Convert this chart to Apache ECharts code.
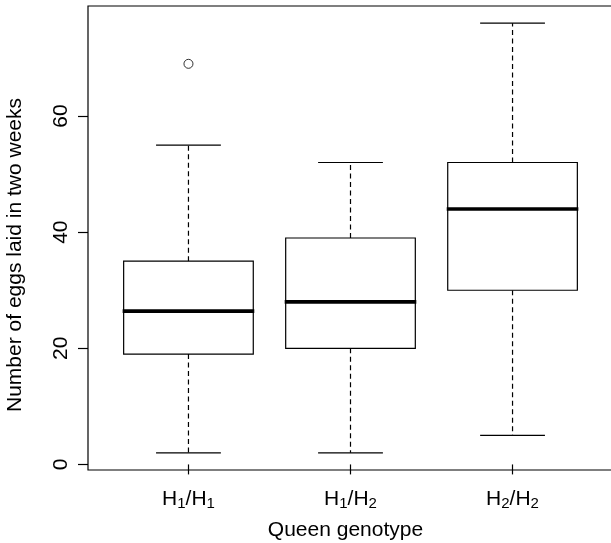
<!DOCTYPE html>
<html>
<head>
<meta charset="utf-8">
<script src="https://cdn.jsdelivr.net/npm/echarts@6/dist/echarts.min.js"></script>
<style>
  html, body { margin: 0; padding: 0; background: #fff; }
  #chart { width: 611px; height: 543px; }
</style>
</head>
<body>
<div id="chart"></div>
<script>
// box statistics per queen genotype
const genotypes = ['H1/H1', 'H1/H2', 'H2/H2'];
const whiskerLow = [2, 2, 5];
const quartile1 = [19, 20, 30];
const medians = [26.4, 28, 44];
const quartile3 = [35, 39, 52];
const whiskerHigh = [55, 52, 76];
const outliers = [[1, 69]];
const yTicks = [0, 20, 40, 60];
const xTicks = [1, 2, 3];

const FONT = '"Liberation Sans", Arial, sans-serif';

// H1/H2 -> rich text with subscripts
function genotypeLabel(v) {
  const g = genotypes[Math.round(v) - 1] || '';
  return g.replace(/H(\d)/g, '{m|H}{s|$1}').replace('/', '{m|/}');
}

function renderBox(params, api) {
  const x = api.value(0);
  const lo = api.coord([x, api.value(1)]);
  const q1 = api.coord([x, api.value(2)]);
  const med = api.coord([x, api.value(3)]);
  const q3 = api.coord([x, api.value(4)]);
  const hi = api.coord([x, api.value(5)]);
  const cx = lo[0];
  const half = api.size([0.4, 0])[0];
  const staple = api.size([0.2, 0])[0];
  const solid = { stroke: '#000', lineWidth: 1.2, fill: null };
  const dashed = { stroke: '#000', lineWidth: 1.2, lineDash: [5, 3.5] };
  return {
    type: 'group',
    children: [
      { type: 'line', shape: { x1: cx, y1: q3[1], x2: cx, y2: hi[1] }, style: dashed },
      { type: 'line', shape: { x1: cx, y1: q1[1], x2: cx, y2: lo[1] }, style: dashed },
      { type: 'line', shape: { x1: cx - staple, y1: hi[1], x2: cx + staple, y2: hi[1] }, style: solid },
      { type: 'line', shape: { x1: cx - staple, y1: lo[1], x2: cx + staple, y2: lo[1] }, style: solid },
      { type: 'rect', shape: { x: cx - half, y: q3[1], width: half * 2, height: q1[1] - q3[1] },
        style: { stroke: '#000', lineWidth: 1.2, fill: '#fff' } },
      { type: 'line', shape: { x1: cx - half - 1, y1: med[1], x2: cx + half + 1, y2: med[1] },
        style: { stroke: '#000', lineWidth: 3.6 } }
    ]
  };
}

const boxData = genotypes.map((g, i) =>
  [i + 1, whiskerLow[i], quartile1[i], medians[i], quartile3[i], whiskerHigh[i]]);

const chart = echarts.init(document.getElementById('chart'));
chart.setOption({
  animation: false,
  backgroundColor: '#fff',
  textStyle: { fontFamily: FONT },
  grid: {
    left: 88, top: 6, width: 525, height: 464,
    outerBoundsMode: 'none',
    containLabel: false,
    show: true, borderColor: '#000', borderWidth: 1.2, backgroundColor: 'transparent'
  },
  xAxis: {
    type: 'value',
    min: 0.38,
    max: 3.62,
    axisLine: { show: false },
    splitLine: { show: false },
    axisTick: { show: true, customValues: xTicks, length: 10, lineStyle: { color: '#000', width: 1.2 } },
    axisLabel: {
      customValues: xTicks,
      margin: 17,
      formatter: genotypeLabel,
      rich: {
        m: { fontSize: 21, color: '#000', fontFamily: FONT, lineHeight: 24 },
        s: { fontSize: 15, color: '#000', fontFamily: FONT, lineHeight: 13, verticalAlign: 'bottom' }
      }
    },
    name: 'Queen genotype',
    nameLocation: 'middle',
    nameGap: 50,
    nameTextStyle: { fontSize: 21, color: '#000', fontFamily: FONT, padding: [0, 10, 0, 0] }
  },
  yAxis: {
    type: 'value',
    min: -0.96,
    max: 78.96,
    axisLine: { show: false },
    splitLine: { show: false },
    axisTick: { show: true, customValues: yTicks, length: 10, lineStyle: { color: '#000', width: 1.2 } },
    axisLabel: {
      customValues: yTicks,
      rotate: 90,
      margin: 16,
      fontSize: 21,
      color: '#000',
      fontFamily: FONT
    },
    name: 'Number of eggs laid in two weeks',
    nameLocation: 'middle',
    nameRotate: 90,
    nameGap: 62,
    nameTextStyle: { fontSize: 21, color: '#000', fontFamily: FONT, padding: [0, 34, 0, 0] }
  },
  series: [
    {
      type: 'custom',
      renderItem: renderBox,
      encode: { x: 0, y: [1, 2, 3, 4, 5] },
      data: boxData,
      z: 2
    },
    {
      type: 'scatter',
      data: outliers,
      symbol: 'circle',
      symbolSize: 9,
      itemStyle: { color: '#fff', borderColor: '#000', borderWidth: 1 },
      z: 3
    }
  ]
});
</script>
</body>
</html>
